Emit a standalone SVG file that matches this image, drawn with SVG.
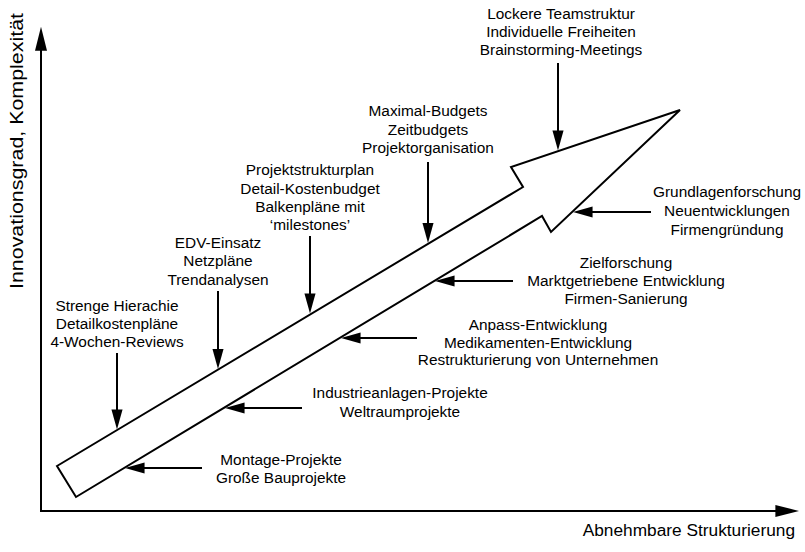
<svg xmlns="http://www.w3.org/2000/svg" width="805" height="552" viewBox="0 0 805 552">
  <style>
    .lbl { font-family: "Liberation Sans", Arial, sans-serif; font-size: 15.4px; fill: #000; text-anchor: middle; }
    .axis-lbl { font-family: "Liberation Sans", Arial, sans-serif; fill: #000; }
    .axis { stroke: #000; stroke-width: 2; fill: none; }
    .pointer { stroke: #000; stroke-width: 2; fill: none; marker-end: url(#head); }
    .big { fill: #fff; stroke: #000; stroke-width: 2; stroke-linejoin: miter; }
  </style>
  <defs>
    <marker id="head" markerUnits="userSpaceOnUse" markerWidth="20" markerHeight="12" viewBox="0 0 18 10" refX="14" refY="5" orient="auto">
      <path d="M0,0 L18,5 L0,10 z" fill="#000"/>
    </marker>
    <marker id="axisHead" markerUnits="userSpaceOnUse" markerWidth="24" markerHeight="13" viewBox="0 0 22 11" refX="18" refY="5.5" orient="auto">
      <path d="M0,0 L22,5.5 L0,11 z" fill="#000"/>
    </marker>
  </defs>

  <rect width="805" height="552" fill="#fff"/>

  <!-- axes -->
  <g id="axes">
    <path class="axis" d="M41,511 L41,31" marker-end="url(#axisHead)"/>
    <path class="axis" d="M40,511 L795,511" marker-end="url(#axisHead)"/>
    <text class="axis-lbl" font-size="17.3" x="795" y="536" text-anchor="end">Abnehmbare Strukturierung</text>
    <text class="axis-lbl" font-size="19" transform="translate(23,151) rotate(-90)" text-anchor="middle" textLength="276" lengthAdjust="spacingAndGlyphs">Innovationsgrad, Komplexität</text>
  </g>

  <!-- main development arrow -->
  <g id="trend">
    <polygon class="big" points="57,466 523,187 511,167 680,110 551,232 542,216 76,497"/>
  </g>

  <!-- annotation pointers -->
  <g id="connectors">
    <path class="pointer" d="M117,353 L117,425"/>
    <path class="pointer" d="M218,291 L218,364.5"/>
    <path class="pointer" d="M310,236 L310,309"/>
    <path class="pointer" d="M428,162 L428,238.5"/>
    <path class="pointer" d="M558,63 L558,146"/>
    <path class="pointer" d="M651,212 L577,212"/>
    <path class="pointer" d="M513,281 L439,281"/>
    <path class="pointer" d="M417,338 L345,338"/>
    <path class="pointer" d="M302,408 L229,408"/>
    <path class="pointer" d="M202,468 L129,468"/>
  </g>

  <!-- labels above the arrow -->
  <g id="n-hierarchie">
    <text class="lbl" x="117" y="311">Strenge Hierachie</text>
    <text class="lbl" x="117" y="329">Detailkostenpläne</text>
    <text class="lbl" x="117" y="347">4-Wochen-Reviews</text>
  </g>
  <g id="n-edv">
    <text class="lbl" x="218" y="248">EDV-Einsatz</text>
    <text class="lbl" x="218" y="266">Netzpläne</text>
    <text class="lbl" x="218" y="285">Trendanalysen</text>
  </g>
  <g id="n-psp">
    <text class="lbl" x="310" y="175">Projektstrukturplan</text>
    <text class="lbl" x="310" y="193.5">Detail-Kostenbudget</text>
    <text class="lbl" x="310" y="211.5">Balkenpläne mit</text>
    <text class="lbl" x="310" y="229.5">‘milestones’</text>
  </g>
  <g id="n-budget">
    <text class="lbl" x="428" y="116">Maximal-Budgets</text>
    <text class="lbl" x="428" y="135">Zeitbudgets</text>
    <text class="lbl" x="428" y="153">Projektorganisation</text>
  </g>
  <g id="n-team">
    <text class="lbl" x="561" y="19">Lockere Teamstruktur</text>
    <text class="lbl" x="561" y="37">Individuelle Freiheiten</text>
    <text class="lbl" x="561" y="55">Brainstorming-Meetings</text>
  </g>

  <!-- labels below the arrow -->
  <g id="n-grundlagen">
    <text class="lbl" x="727" y="197">Grundlagenforschung</text>
    <text class="lbl" x="727" y="216">Neuentwicklungen</text>
    <text class="lbl" x="727" y="235">Firmengründung</text>
  </g>
  <g id="n-ziel">
    <text class="lbl" x="626" y="268">Zielforschung</text>
    <text class="lbl" x="626" y="286">Marktgetriebene Entwicklung</text>
    <text class="lbl" x="626" y="304">Firmen-Sanierung</text>
  </g>
  <g id="n-anpass">
    <text class="lbl" x="538" y="330">Anpass-Entwicklung</text>
    <text class="lbl" x="538" y="347.5">Medikamenten-Entwicklung</text>
    <text class="lbl" x="538" y="365">Restrukturierung von Unternehmen</text>
  </g>
  <g id="n-industrie">
    <text class="lbl" x="400" y="398">Industrieanlagen-Projekte</text>
    <text class="lbl" x="400" y="417">Weltraumprojekte</text>
  </g>
  <g id="n-montage">
    <text class="lbl" x="281" y="465">Montage-Projekte</text>
    <text class="lbl" x="281" y="483">Große Bauprojekte</text>
  </g>
</svg>
